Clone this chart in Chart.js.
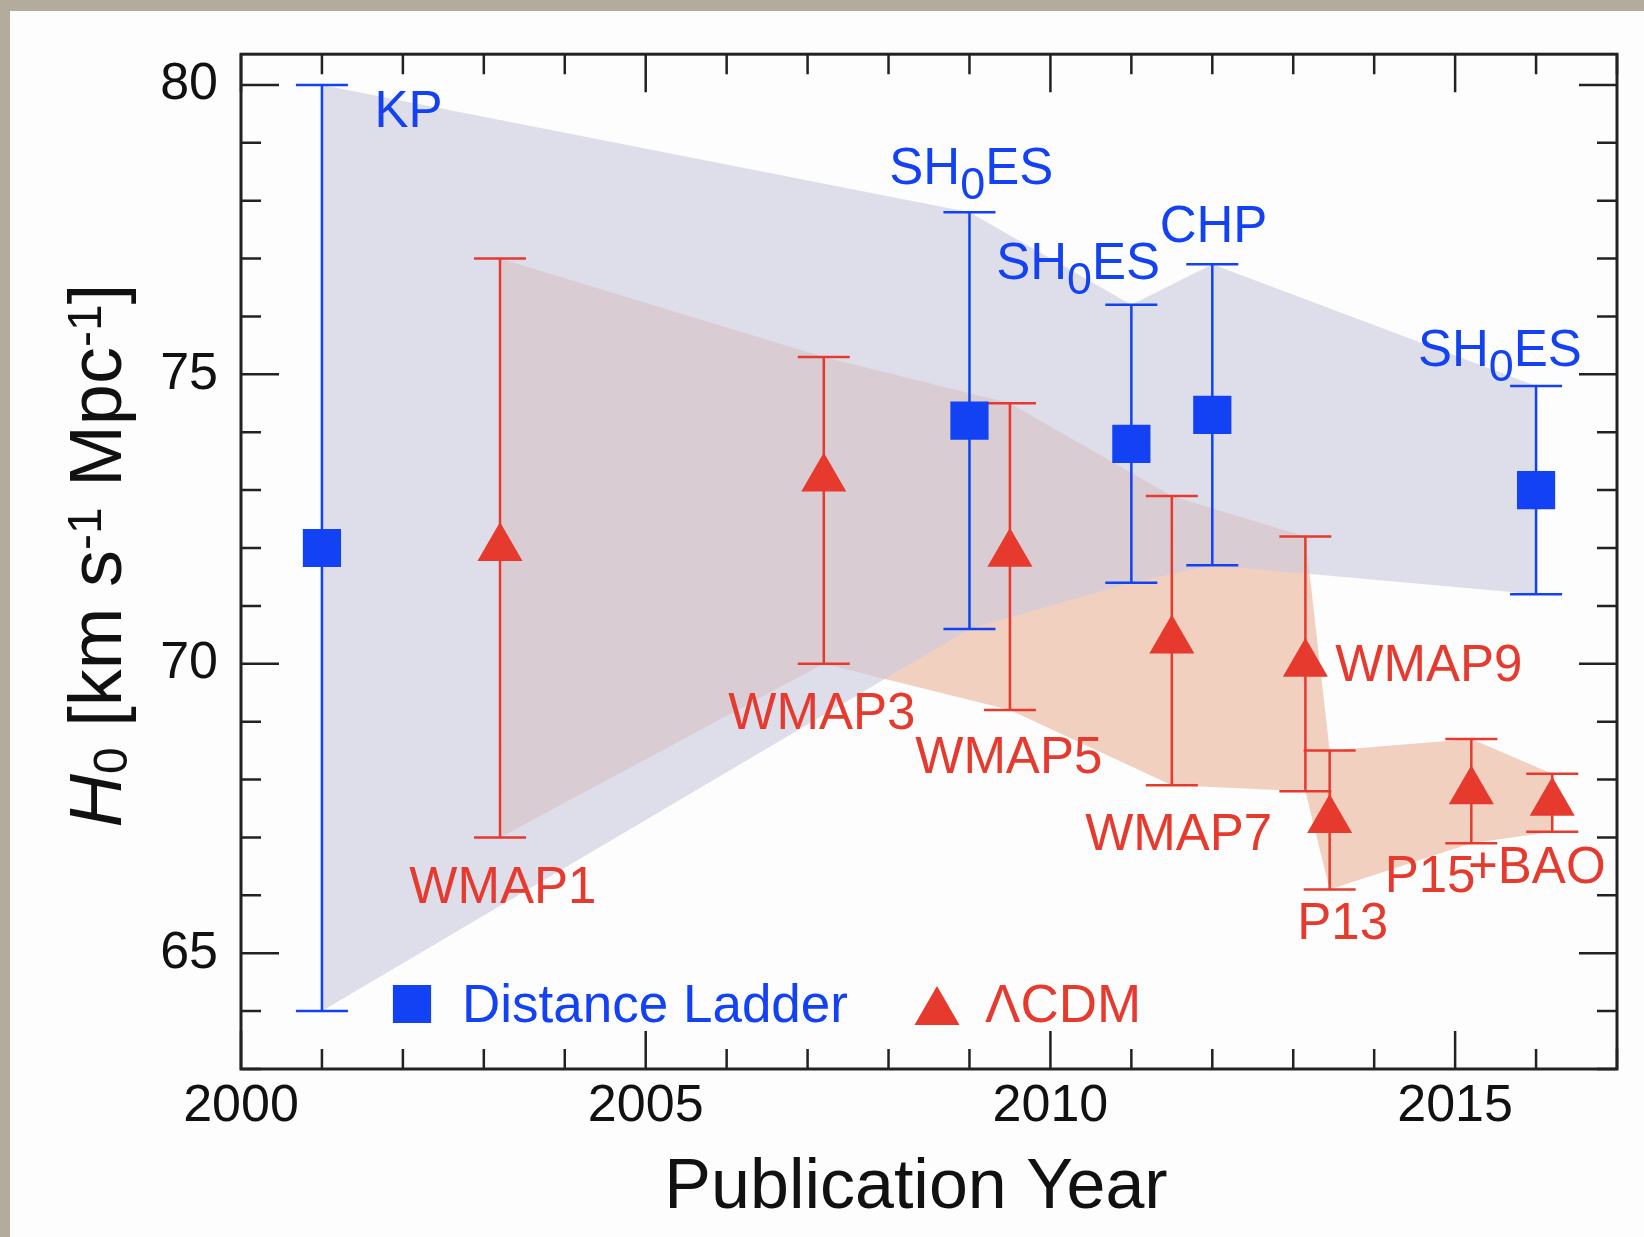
<!DOCTYPE html>
<html>
<head>
<meta charset="utf-8">
<title>H0 vs publication year</title>
<script src="https://cdn.jsdelivr.net/npm/chart.js@4.4.1/dist/chart.umd.min.js"></script>
<style>
html, body { margin: 0; padding: 0; }
body { width: 1644px; height: 1237px; background: #b3ab9b; position: relative; overflow: hidden; }
#card { position: absolute; left: 10px; top: 11px; right: 0; bottom: 0; background: #fdfdfd; }
#wrap { position: absolute; left: 0; top: 0; width: 1644px; height: 1237px; }
</style>
</head>
<body>
<div id="card"></div>
<div id="wrap"><canvas id="h0Chart" width="1644" height="1237"></canvas></div>
<script>
// distance ladder measurements (blue squares)
const ladderNames = ["KP", "SH_0ES", "SH_0ES", "CHP", "SH_0ES"];
const ladderYears = [2001.0, 2009.0, 2011.0, 2012.0, 2016.0];
const ladderH0    = [72.0, 74.2, 73.8, 74.3, 73.0];
const ladderHi    = [80.0, 77.8, 76.2, 76.9, 74.8];
const ladderLo    = [64.0, 70.6, 71.4, 71.7, 71.2];

// LCDM inferences from the CMB (red triangles)
const cmbNames = ["WMAP1", "WMAP3", "WMAP5", "WMAP7", "WMAP9", "P13", "P15", "+BAO"];
const cmbYears = [2003.2, 2007.2, 2009.5, 2011.5, 2013.15, 2013.45, 2015.2, 2016.2];
const cmbH0    = [72.0, 73.2, 71.9, 70.4, 70.0, 67.3, 67.8, 67.6];
const cmbHi    = [77.0, 75.3, 74.5, 72.9, 72.2, 68.5, 68.7, 68.1];
const cmbLo    = [67.0, 70.0, 69.2, 67.9, 67.8, 66.1, 66.9, 67.1];

// axes
const xMin = 2000, xMax = 2017;
const yMin = 63, yMax = 80.53;
const xTickLabels = [2000, 2005, 2010, 2015];
const yTickLabels = [65, 70, 75, 80];
const xTitle = "Publication Year";

// where each name sits (left end of baseline, in year / H0 units)
const ladderLabelAt = [[2001.65, 79.27], [2008.01, 78.29], [2009.33, 76.64], [2011.35, 77.28], [2014.54, 75.15]];
const cmbLabelAt = [[2002.08, 65.87], [2006.02, 68.87], [2008.33, 68.11], [2010.43, 66.78],
                    [2013.52, 69.71], [2013.05, 65.25], [2014.13, 66.06], [2015.16, 66.22]];

const FONT = "'Liberation Sans', Arial, Helvetica, sans-serif";
const BLUE = "#1242f4";
const RED = "#e63a2f";
const INK = "#111";

function pts(xs, ys){
  return xs.map((x, i) => ({x: x, y: ys[i]}));
}

// "SH_0ES" -> SH, subscript 0, ES
function runsOf(name){
  let runs = [];
  let parts = name.split(/_(\w)/);
  parts.forEach((p, i) => {
    if(p === "") return;
    runs.push({t: p, sub: i % 2 === 1});
  });
  return runs;
}

function drawRuns(ctx, runs, x, y, size){
  runs.forEach(r => {
    let s = r.sub ? size * 0.88 : size;
    ctx.font = s + "px " + FONT;
    ctx.fillText(r.t, x, r.sub ? y + 15 : y);
    x += ctx.measureText(r.t).width;
  });
}

function drawErrorBars(ctx, sx, sy, xs, his, los, color){
  ctx.save();
  ctx.strokeStyle = color;
  ctx.lineWidth = 2.5;
  ctx.beginPath();
  for(let i = 0; i < xs.length; i++){
    let px = sx.getPixelForValue(xs[i]);
    let top = sy.getPixelForValue(his[i]);
    let bot = sy.getPixelForValue(los[i]);
    ctx.moveTo(px, top); ctx.lineTo(px, bot);
    ctx.moveTo(px - 26, top); ctx.lineTo(px + 26, top);
    ctx.moveTo(px - 26, bot); ctx.lineTo(px + 26, bot);
  }
  ctx.stroke();
  ctx.restore();
}

// error bars go above the shaded bands but under the markers
const errorBars = {
  id: "errorBars",
  afterDatasetDraw(chart, args){
    if(chart.data.datasets[args.index].id !== "ladderLower") return;
    const {ctx, scales: {x, y}} = chart;
    drawErrorBars(ctx, x, y, ladderYears, ladderHi, ladderLo, BLUE);
    drawErrorBars(ctx, x, y, cmbYears, cmbHi, cmbLo, RED);
  }
};

// box round the plot with inward ticks on all four sides
const frameTicks = {
  id: "frameTicks",
  afterDatasetsDraw(chart){
    const {ctx, chartArea: a, scales: {x, y}} = chart;
    ctx.save();
    ctx.strokeStyle = "#222";
    ctx.lineWidth = 2.5;
    ctx.beginPath();
    x.ticks.forEach(t => {
      if(!Number.isInteger(t.value)) return;
      let px = x.getPixelForValue(t.value);
      let len = xTickLabels.includes(t.value) ? 38 : 20;
      ctx.moveTo(px, a.bottom); ctx.lineTo(px, a.bottom - len);
      ctx.moveTo(px, a.top); ctx.lineTo(px, a.top + len);
    });
    y.ticks.forEach(t => {
      if(!Number.isInteger(t.value)) return;
      let py = y.getPixelForValue(t.value);
      let len = yTickLabels.includes(t.value) ? 38 : 20;
      ctx.moveTo(a.left, py); ctx.lineTo(a.left + len, py);
      ctx.moveTo(a.right, py); ctx.lineTo(a.right - len, py);
    });
    ctx.stroke();
    ctx.lineWidth = 3;
    ctx.strokeRect(a.left, a.top, a.right - a.left, a.bottom - a.top);
    ctx.restore();
  }
};

const pointNames = {
  id: "pointNames",
  afterDatasetsDraw(chart){
    const {ctx, scales: {x, y}} = chart;
    ctx.save();
    ctx.textBaseline = "alphabetic";
    ctx.textAlign = "left";
    ctx.fillStyle = BLUE;
    ladderNames.forEach((n, i) => {
      drawRuns(ctx, runsOf(n), x.getPixelForValue(ladderLabelAt[i][0]), y.getPixelForValue(ladderLabelAt[i][1]), 51);
    });
    ctx.fillStyle = RED;
    cmbNames.forEach((n, i) => {
      drawRuns(ctx, runsOf(n), x.getPixelForValue(cmbLabelAt[i][0]), y.getPixelForValue(cmbLabelAt[i][1]), 51);
    });
    ctx.restore();
  }
};

// legend in the lower left of the plot
const innerLegend = {
  id: "innerLegend",
  afterDraw(chart){
    const {ctx, chartArea: a} = chart;
    const sets = chart.data.datasets;
    const items = [
      {ds: sets[0], mx: a.left + 171, my: a.bottom - 65, tx: a.left + 221},
      {ds: sets[1], mx: a.left + 696, my: a.bottom - 57, tx: a.left + 744}
    ];
    ctx.save();
    items.forEach(it => {
      ctx.fillStyle = it.ds.backgroundColor;
      Chart.helpers.drawPoint(ctx, {pointStyle: it.ds.pointStyle, radius: it.ds.pointRadius, rotation: 0, borderWidth: 0}, it.mx, it.my);
      ctx.font = "53px " + FONT;
      ctx.textBaseline = "alphabetic";
      ctx.fillText(it.ds.label, it.tx, a.bottom - 47);
    });
    ctx.restore();
  }
};

// axis titles: rotated y title with italic H, subscript and superscripts
const axisTitles = {
  id: "axisTitles",
  afterDraw(chart){
    const {ctx, chartArea: a} = chart;
    ctx.save();
    ctx.fillStyle = INK;
    ctx.textBaseline = "alphabetic";

    ctx.font = "70px " + FONT;
    ctx.textAlign = "center";
    ctx.fillText(xTitle, (a.left + a.right) / 2 - 13, a.bottom + 139);
    ctx.textAlign = "left";

    const runs = [
      {t: "H", size: 74, style: "italic "},
      {t: "0", size: 48, dy: 6},
      {t: " [km s", size: 74},
      {t: "-1", size: 48, dy: -20},
      {t: " Mpc", size: 74},
      {t: "-1", size: 48, dy: -20},
      {t: "]", size: 74}
    ];
    let total = 0;
    runs.forEach(r => {
      ctx.font = (r.style || "") + r.size + "px " + FONT;
      r.w = ctx.measureText(r.t).width;
      total += r.w;
    });
    ctx.translate(121, (a.top + a.bottom) / 2 - 6);
    ctx.rotate(-Math.PI / 2);
    let cx = -total / 2;
    runs.forEach(r => {
      ctx.font = (r.style || "") + r.size + "px " + FONT;
      ctx.fillText(r.t, cx, r.dy || 0);
      cx += r.w;
    });
    ctx.restore();
  }
};

const ctx = document.getElementById("h0Chart");

new Chart(ctx, {
  type: "scatter",
  data: {
    datasets: [
      {
        label: "Distance Ladder",
        data: pts(ladderYears, ladderH0),
        pointStyle: "rect",
        pointRadius: 27,
        backgroundColor: BLUE,
        borderWidth: 0,
        order: 1
      },
      {
        label: "\u039BCDM",
        data: pts(cmbYears, cmbH0),
        pointStyle: "triangle",
        pointRadius: 26,
        backgroundColor: RED,
        borderWidth: 0,
        order: 1
      },
      {
        id: "ladderLower",
        type: "line",
        data: pts(ladderYears, ladderLo),
        pointRadius: 0,
        borderWidth: 0,
        borderColor: "rgba(0,0,0,0)",
        fill: false,
        order: 5
      },
      {
        type: "line",
        data: pts(ladderYears, ladderHi),
        pointRadius: 0,
        borderWidth: 0,
        borderColor: "rgba(0,0,0,0)",
        backgroundColor: "rgba(202,202,222,0.6)",
        fill: "-1",
        order: 5
      },
      {
        type: "line",
        data: pts(cmbYears, cmbLo),
        pointRadius: 0,
        borderWidth: 0,
        borderColor: "rgba(0,0,0,0)",
        fill: false,
        order: 6
      },
      {
        type: "line",
        data: pts(cmbYears, cmbHi),
        pointRadius: 0,
        borderWidth: 0,
        borderColor: "rgba(0,0,0,0)",
        backgroundColor: "rgb(241,208,192)",
        fill: "-1",
        order: 6
      }
    ]
  },
  options: {
    responsive: false,
    animation: false,
    layout: {padding: {left: 0, top: 50, right: 27, bottom: 0}},
    plugins: {
      legend: {display: false},
      tooltip: {enabled: false}
    },
    scales: {
      x: {
        type: "linear",
        min: xMin,
        max: xMax,
        afterFit(scale){ scale.height = 168; },
        grid: {display: false, drawTicks: false},
        border: {display: false},
        ticks: {
          stepSize: 1,
          autoSkip: false,
          maxRotation: 0,
          includeBounds: false,
          padding: 6,
          color: INK,
          font: {family: FONT, size: 52},
          callback: v => xTickLabels.includes(v) ? String(v) : ""
        }
      },
      y: {
        type: "linear",
        min: yMin,
        max: yMax,
        afterFit(scale){ scale.width = 241; },
        grid: {display: false, drawTicks: false},
        border: {display: false},
        ticks: {
          stepSize: 1,
          autoSkip: false,
          includeBounds: false,
          padding: 23,
          color: INK,
          font: {family: FONT, size: 52},
          callback: v => yTickLabels.includes(v) ? String(v) : ""
        }
      }
    }
  },
  plugins: [errorBars, frameTicks, pointNames, innerLegend, axisTitles]
});
</script>
</body>
</html>
